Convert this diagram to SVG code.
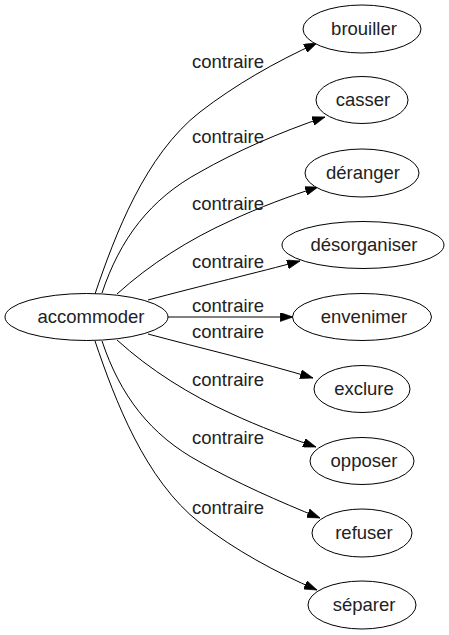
<svg xmlns="http://www.w3.org/2000/svg" width="449" height="635" viewBox="0 0 449 635">
<style>
.n ellipse{fill:#fff;stroke:#000;stroke-width:1}
text{font-family:"Liberation Sans",Arial,sans-serif;font-size:18.5px;fill:#222;text-anchor:middle}
.e path{fill:none;stroke:#000;stroke-width:1;marker-end:url(#ah)}
</style>
<defs>
<marker id="ah" viewBox="0 0 10 7" refX="10" refY="3.5" markerWidth="13" markerHeight="9" markerUnits="userSpaceOnUse" orient="auto">
<path d="M0,0 L10,3.5 L0,7 Z" fill="#000" stroke="#000" stroke-width="0.5"/>
</marker>
</defs>
<rect width="449" height="635" fill="#fff"/>
<g class="e" id="edges">
<path d="M95,294 C115,235 145,155 200,112 C235,85 275,62 317,43"/>
<path d="M102,293 C120,239 150,199 200,172 C235,152 280,132 325,117"/>
<path d="M117,294 C150,264 190,239 230,221 C260,207 290,196 318,187"/>
<path d="M148,300 C200,286 260,272 300,261"/>
<path d="M168,317 L293,317"/>
<path d="M148,334 C200,348 260,362 313,378"/>
<path d="M117,340 C150,370 190,395 230,413 C260,427 290,438 316,447"/>
<path d="M102,341 C120,395 150,435 200,462 C235,482 280,502 320,518"/>
<path d="M95,341 C115,400 145,480 200,523 C235,550 275,572 317,590"/>
</g>
<g id="labels">
<text x="228" y="68">contraire</text>
<text x="228" y="143">contraire</text>
<text x="228" y="210">contraire</text>
<text x="228" y="268">contraire</text>
<text x="228" y="312">contraire</text>
<text x="228" y="338">contraire</text>
<text x="228" y="386">contraire</text>
<text x="228" y="444">contraire</text>
<text x="228" y="514">contraire</text>
</g>
<g class="n" id="accommoder"><ellipse cx="86.5" cy="317" rx="81.5" ry="23.5"/><text x="91" y="323">accommoder</text></g>
<g class="n" id="brouiller"><ellipse cx="362" cy="29" rx="59" ry="24"/><text x="364" y="35">brouiller</text></g>
<g class="n" id="casser"><ellipse cx="362" cy="100" rx="46" ry="23.5"/><text x="363" y="106">casser</text></g>
<g class="n" id="deranger"><ellipse cx="362" cy="173" rx="57" ry="24"/><text x="363" y="179">déranger</text></g>
<g class="n" id="desorganiser"><ellipse cx="363" cy="245" rx="81" ry="23.5"/><text x="364" y="251">désorganiser</text></g>
<g class="n" id="envenimer"><ellipse cx="362" cy="317" rx="69.5" ry="23.5"/><text x="364" y="323">envenimer</text></g>
<g class="n" id="exclure"><ellipse cx="362" cy="389" rx="48" ry="23.5"/><text x="364" y="395">exclure</text></g>
<g class="n" id="opposer"><ellipse cx="362" cy="461" rx="52" ry="23.5"/><text x="364" y="467">opposer</text></g>
<g class="n" id="refuser"><ellipse cx="362" cy="533" rx="50" ry="24"/><text x="364" y="539">refuser</text></g>
<g class="n" id="separer"><ellipse cx="362" cy="605" rx="54" ry="24"/><text x="364" y="611">séparer</text></g>
</svg>
